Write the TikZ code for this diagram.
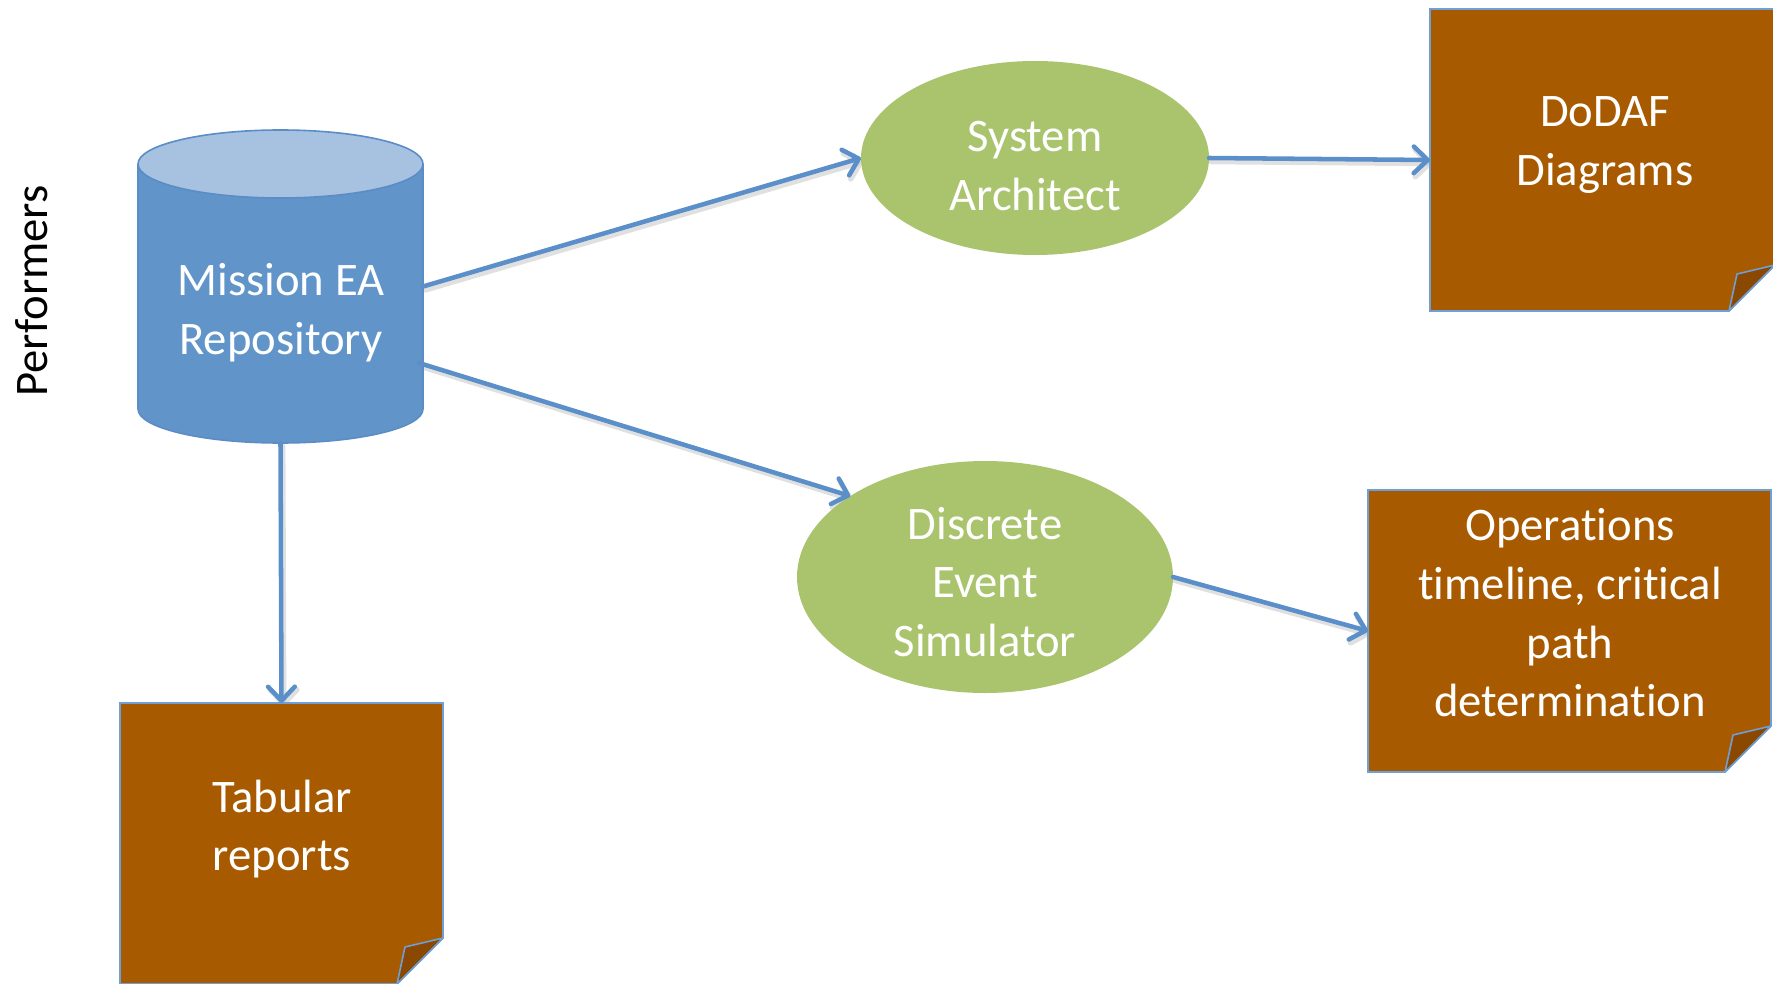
\documentclass[tikz,border=0pt]{standalone}
\usepackage{fontspec}
\setmainfont{Carlito}[Ligatures=NoCommon]
\usetikzlibrary{arrows.meta,shapes.geometric,calc}
\pgfdeclarelayer{bg}
\pgfsetlayers{bg,main}
\definecolor{cylbody}{HTML}{6195C9}
\definecolor{cyltop}{HTML}{A7C1E1}
\definecolor{cyledge}{HTML}{5A8CC6}
\definecolor{ovalgreen}{HTML}{AAC46E}
\definecolor{docbrown}{HTML}{A85A00}
\definecolor{flapbrown}{HTML}{8A4800}
\definecolor{docedge}{HTML}{6E9FD6}
\definecolor{arrowblue}{HTML}{5B8FC9}
\begin{document}
\begin{tikzpicture}[x=0.75pt,y=-0.75pt,
  bigfont/.style={font=\fontsize{35}{44}\selectfont},
  txt/.style={bigfont, text=white, align=center, inner sep=0pt},
  oval/.style={ellipse, fill=ovalgreen, inner sep=0pt, outer sep=0pt, txt},
  docbox/.style={rectangle, inner sep=0pt, outer sep=0pt},
  conn/.style={draw=arrowblue, line width=3.4pt, line cap=round,
    -{Straight Barb[length=10.5pt,width=20pt,round]}},
  connshadow/.style={draw=black!22, line width=4.2pt, line cap=round, opacity=0.55,
    -{Straight Barb[length=10.5pt,width=20pt,round]},
    transform canvas={xshift=1.6pt,yshift=-2.6pt}},
  docfill/.style={fill=docbrown, draw=docedge, line width=1.2pt},
  flapfill/.style={fill=flapbrown, draw=docedge, line width=1.2pt, line join=round}
]
\useasboundingbox (0,0) rectangle (1773,984);

% Performers label
\node[rotate=90, bigfont, text=black, inner sep=0pt] (perf) at (32,291) {Performers};

% Cylinder (repository)
\node[docbox, minimum width=213.75pt, minimum height=234.75pt] (repo) at (280.5,286.5) {};
\node[txt] (repotxt) at (281,313) {Mission EA\\Repository};
\coordinate (repoB) at (419,363);

% Ellipses
\node[oval, minimum width=261pt, minimum height=145.5pt] (sa) at (1035,158) {};
\node[txt] (satxt) at (1035,166) {System\\Architect};
\node[oval, minimum width=282pt, minimum height=174pt] (des) at (985,577) {};
\node[txt] (destxt) at (985,582) {Discrete\\Event\\Simulator};

% Documents
\node[docbox, minimum width=258.75pt, minimum height=226.5pt] (dodaf) at (1602.5,160) {};
\node[docbox, minimum width=302.25pt, minimum height=211.5pt] (ops) at (1569.5,631) {};
\node[docbox, minimum width=242.25pt, minimum height=210.75pt] (tab) at (281.5,843.5) {};

\begin{pgfonlayer}{bg}
% connector shadows
\draw[connshadow] (repo.east) -- (sa.west);
\draw[connshadow] (repoB) -- (des.149);
\draw[connshadow] (sa.east) -- (dodaf.west);
\draw[connshadow] (des.east) -- (ops.west);
\draw[connshadow] (repo.south) -- (tab.north);
% cylinder
\fill[cylbody] (138,164) rectangle (423,409);
\fill[cylbody] (280.5,409) ellipse[x radius=142.5, y radius=34];
\draw[cyledge, line width=1.2pt] (138,164) -- (138,409) arc[start angle=180, end angle=0, x radius=142.5, y radius=34] -- (423,164);
\filldraw[fill=cyltop, draw=cyledge, line width=1.2pt] (280.5,164) ellipse[x radius=142.5, y radius=34];
% documents
\foreach \d in {dodaf,ops,tab}{
  \path[docfill] (\d.north west) -- (\d.north east) -- ($(\d.south east)+(0,-46)$)
     -- ($(\d.south east)+(-46,0)$) -- (\d.south west) -- cycle;
  \path[flapfill] ($(\d.south east)+(0,-46)$) -- ($(\d.south east)+(-38,-37)$)
     -- ($(\d.south east)+(-46,0)$) -- cycle;
}
\end{pgfonlayer}

\node[txt] (dodaftxt) at (1605,145) {DoDAF\\Diagrams};
\node[txt] (opstxt) at (1570,613) {Operations\\timeline, critical\\path\\determination};
\node[txt] (tabtxt) at (282,829) {Tabular\\reports};

% Connectors
\draw[conn] (repo.east) -- (sa.west);
\draw[conn] (repoB) -- (des.149);
\draw[conn] (sa.east) -- (dodaf.west);
\draw[conn] (des.east) -- (ops.west);
\draw[conn] (repo.south) -- (tab.north);
\end{tikzpicture}
\end{document}
